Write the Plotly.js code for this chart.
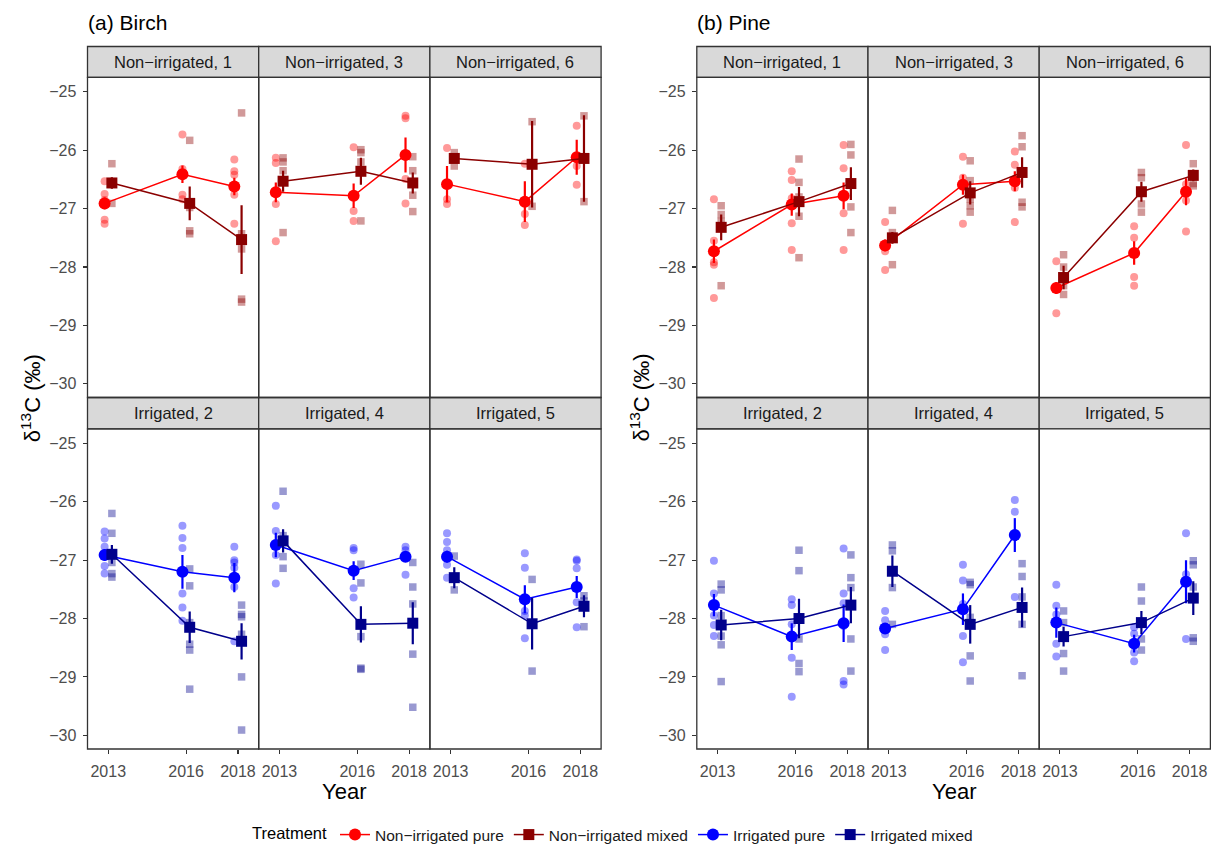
<!DOCTYPE html>
<html>
<head>
<meta charset="utf-8">
<script src="https://cdn.plot.ly/plotly-3.0.1.min.js"></script>
<style>html,body{margin:0;padding:0;background:#fff;}#chart{width:1211px;height:846px;}</style>
</head>
<body>
<div id="chart"></div>
<script>
// ---------------- DATA ----------------
const years = [2013, 2016, 2018];
const yTicks = [-30, -29, -28, -27, -26, -25];
const panelNames = ["Non\u2212irrigated, 1", "Non\u2212irrigated, 3", "Non\u2212irrigated, 6",
                    "Irrigated, 2", "Irrigated, 4", "Irrigated, 5"];
const speciesTitles = ["(a) Birch", "(b) Pine"];
const treatments = ["Non\u2212irrigated pure", "Non\u2212irrigated mixed", "Irrigated pure", "Irrigated mixed"];

// Birch: means and standard errors per panel (2013, 2016, 2018)
const birchPureMean = [
  [-26.91, -26.41, -26.62], [-26.72, -26.78, -26.08], [-26.58, -26.88, -26.12],
  [-26.91, -27.20, -27.30], [-26.74, -27.18, -26.94], [-26.94, -27.67, -27.46]];
const birchPureSE = [
  [0.10, 0.15, 0.15], [0.17, 0.21, 0.30], [0.31, 0.35, 0.30],
  [0.10, 0.29, 0.25], [0.21, 0.16, 0.08], [0.10, 0.24, 0.19]];
const birchMixedMean = [
  [-26.56, -26.91, -27.53], [-26.53, -26.36, -26.56], [-26.14, -26.24, -26.14],
  [-26.90, -28.15, -28.39], [-26.67, -28.10, -28.08], [-27.30, -28.09, -27.79]];
const birchMixedSE = [
  [0.10, 0.29, 0.59], [0.18, 0.23, 0.18], [0.08, 0.74, 0.74],
  [0.16, 0.27, 0.31], [0.20, 0.31, 0.36], [0.18, 0.44, 0.19]];
// Birch: individual trees per panel, per year
const birchPurePts = [
  [[-26.53,-26.75,-26.85,-27.19,-27.26], [-25.73,-26.32,-26.76,-26.84], [-26.16,-26.36,-26.42,-26.76,-27.26]],
  [[-26.13,-26.22,-26.72,-26.92,-27.56], [-25.95,-26.78,-27.04,-27.21], [-25.41,-25.45,-26.49,-26.91]],
  [[-25.96,-26.84,-26.92], [-26.23,-27.09,-27.28], [-25.58,-26.27,-26.59]],
  [[-26.51,-26.63,-26.77,-26.91,-27.10,-27.23], [-26.41,-26.62,-26.79,-27.57,-27.81,-28.04], [-26.77,-27.00,-27.04,-27.13,-27.46,-28.39]],
  [[-26.07,-26.50,-26.74,-26.91,-27.40], [-26.79,-26.83,-27.48,-27.64], [-26.77,-26.83,-26.94,-27.25]],
  [[-26.54,-26.69,-26.83,-26.95,-27.08,-27.30], [-26.88,-27.13,-27.87,-27.95,-28.34], [-26.99,-27.01,-27.14,-27.72,-28.15]]];
const birchMixedPts = [
  [[-26.23,-26.55,-26.91], [-25.83,-26.98,-27.38,-27.43], [-25.36,-27.43,-27.69,-28.55,-28.60]],
  [[-26.13,-26.20,-26.35,-27.41], [-25.99,-26.04,-26.20,-27.21], [-26.11,-26.35,-26.77,-27.05]],
  [[-26.04,-26.12,-26.27], [-25.51,-26.96], [-25.41,-26.88]],
  [[-26.20,-26.54,-27.04,-27.23,-27.29], [-27.15,-27.44,-28.07,-28.44,-28.54,-29.21], [-27.77,-27.93,-27.97,-28.27,-29.00,-29.91]],
  [[-25.82,-26.58,-26.94,-27.14], [-27.07,-27.39,-28.31,-28.85,-28.87], [-27.04,-27.46,-27.75,-28.61,-29.52]],
  [[-26.93,-27.30,-27.51], [-27.33,-28.90], [-27.61,-27.70,-28.14]]];

// Pine: means and standard errors per panel
const pinePureMean = [
  [-27.73, -26.93, -26.78], [-27.63, -26.59, -26.53], [-28.36, -27.76, -26.71],
  [-27.77, -28.31, -28.08], [-28.17, -27.84, -26.57], [-28.07, -28.43, -27.37]];
const pinePureSE = [
  [0.20, 0.19, 0.23], [0.10, 0.17, 0.17], [0.10, 0.20, 0.23],
  [0.19, 0.23, 0.32], [0.08, 0.27, 0.29], [0.26, 0.15, 0.37]];
const pineMixedMean = [
  [-27.32, -26.88, -26.57], [-27.50, -26.73, -26.38], [-28.18, -26.71, -26.43],
  [-28.11, -28.00, -27.77], [-27.19, -28.10, -27.81], [-28.31, -28.07, -27.65]];
const pineMixedSE = [
  [0.22, 0.25, 0.28], [0.10, 0.20, 0.26], [0.20, 0.17, 0.10],
  [0.26, 0.34, 0.31], [0.27, 0.33, 0.34], [0.17, 0.20, 0.29]];
const pinePurePts = [
  [[-26.84,-27.55,-27.73,-27.92,-27.96,-28.53], [-26.36,-26.51,-26.82,-27.25,-27.71], [-25.91,-26.31,-27.08,-27.71]],
  [[-27.23,-27.63,-27.73,-28.05], [-26.11,-26.47,-26.59,-27.26], [-26.02,-26.25,-26.64,-27.23]],
  [[-27.90,-28.36,-28.79], [-27.30,-27.50,-28.17,-28.32], [-25.91,-26.58,-26.86,-27.39]],
  [[-27.01,-27.57,-27.75,-27.95,-28.11,-28.30], [-27.67,-27.77,-28.10,-28.67,-29.34], [-26.80,-27.57,-27.74,-28.13,-29.07,-29.13]],
  [[-27.87,-28.03,-28.15,-28.27,-28.54], [-27.08,-27.35,-27.75,-28.30,-28.75], [-25.97,-26.17,-26.57,-27.63]],
  [[-27.42,-27.78,-27.93,-28.43,-28.65], [-28.15,-28.26,-28.58,-28.73], [-26.54,-27.24,-28.35]]];
const pineMixedPts = [
  [[-26.95,-27.10,-27.22,-28.32], [-26.15,-26.55,-26.80,-27.13,-27.84], [-25.90,-26.08,-26.97,-27.41]],
  [[-27.03,-27.41,-27.96], [-26.18,-26.52,-26.83,-26.95,-27.06], [-25.75,-25.94,-26.38,-26.89,-26.97]],
  [[-27.79,-28.00,-28.32,-28.47], [-26.38,-26.47,-26.92,-27.06], [-26.23,-26.57,-26.61]],
  [[-27.41,-27.51,-27.95,-28.30,-28.45,-29.08], [-26.83,-27.18,-28.35,-28.77,-28.91], [-26.91,-27.30,-27.47,-28.35,-28.90]],
  [[-26.74,-26.84,-27.47,-28.10], [-27.38,-27.42,-27.98,-28.64,-29.07], [-27.06,-27.28,-27.63,-28.10,-28.98]],
  [[-27.87,-28.07,-28.60,-28.90], [-27.46,-27.70,-28.35,-28.54], [-27.01,-27.08,-27.46,-28.33,-28.39]]];

// ---------------- STYLE / LAYOUT ----------------
const colors = ["#FF0000", "#8B0000", "#0000FF", "#00008B"];
const FONT = "Liberation Sans, Arial, Helvetica, sans-serif";
const W = 1211, H = 846;
const dodge = 0.14;
const speciesLeft = [87.5, 696.8];
const panelW = 171.2;
const rowStrip = [[46.5, 77.3], [397.5, 428.8]];
const rowPlot = [[77.3, 397.5], [428.8, 749.0]];
const yRange = [-30.235, -24.75];
const xRange = [2012.2, 2018.8];

const species = [
  {pm: birchPureMean, pse: birchPureSE, mm: birchMixedMean, mse: birchMixedSE, pp: birchPurePts, mp: birchMixedPts},
  {pm: pinePureMean, pse: pinePureSE, mm: pineMixedMean, mse: pineMixedSE, pp: pinePurePts, mp: pineMixedPts}];

const traces = [];
const layout = {
  width: W, height: H, margin: {l: 0, r: 0, t: 0, b: 0, autoexpand: false},
  paper_bgcolor: "#FFFFFF", plot_bgcolor: "#FFFFFF",
  font: {family: FONT, size: 15, color: "#1A1A1A"},
  showlegend: true,
  legend: {
    orientation: "h", x: 250 / W, xanchor: "left", y: 1 - 835 / H, yanchor: "middle",
    font: {family: FONT, size: 15.5, color: "#1A1A1A"},
    title: {text: "Treatment", font: {family: FONT, size: 16.5, color: "#000"}, side: "left"},
    traceorder: "normal", itemclick: false, itemdoubleclick: false, tracegroupgap: 0
  },
  shapes: [], annotations: []
};

function flat(pts, off) {
  const xs = [], ys = [];
  pts.forEach((arr, i) => arr.forEach(v => { xs.push(years[i] + off); ys.push(v); }));
  return {xs, ys};
}

const meanTraces = [];
for (let s = 0; s < 2; s++) {
  const sp = species[s];
  for (let p = 0; p < 6; p++) {
    const n = s * 6 + p + 1;
    const row = p < 3 ? 0 : 1, col = p % 3;
    const xa = n === 1 ? "x" : "x" + n, ya = n === 1 ? "y" : "y" + n;
    const x0 = speciesLeft[s] + col * panelW, x1 = x0 + panelW;
    const dom = [x0 / W, x1 / W];
    const ydom = [1 - rowPlot[row][1] / H, 1 - rowPlot[row][0] / H];
    layout["xaxis" + (n === 1 ? "" : n)] = {
      domain: dom, range: xRange, anchor: ya, showgrid: false, zeroline: false, showline: false,
      tickmode: "array", tickvals: years, ticktext: years.map(String),
      ticks: row === 1 ? "outside" : "", ticklen: 4, tickwidth: 1.1, tickcolor: "#333333",
      ticklabelstandoff: 4,
      showticklabels: row === 1, tickfont: {family: FONT, size: 16, color: "#4D4D4D"}, fixedrange: true
    };
    layout["yaxis" + (n === 1 ? "" : n)] = {
      domain: ydom, range: yRange, anchor: xa, showgrid: false, zeroline: false, showline: false,
      tickmode: "array", tickvals: yTicks,
      ticks: col === 0 ? "outside" : "", ticklen: 4, tickwidth: 1.1, tickcolor: "#333333",
      ticklabelstandoff: 3,
      showticklabels: col === 0, tickfont: {family: FONT, size: 16, color: "#4D4D4D"}, fixedrange: true
    };
    // panel frame
    layout.shapes.push({type: "rect", xref: xa + " domain", yref: ya + " domain", x0: 0, x1: 1, y0: 0, y1: 1,
      line: {color: "#333333", width: 1.3}, fillcolor: "rgba(0,0,0,0)", layer: "above"});
    // strip
    layout.shapes.push({type: "rect", xref: "paper", yref: "paper", x0: dom[0], x1: dom[1],
      y0: 1 - rowStrip[row][1] / H, y1: 1 - rowStrip[row][0] / H,
      line: {color: "#333333", width: 1.3}, fillcolor: "#D9D9D9", layer: "below"});
    layout.annotations.push({text: panelNames[p], xref: "paper", yref: "paper",
      x: (dom[0] + dom[1]) / 2, y: 1 - (rowStrip[row][0] + rowStrip[row][1]) / 2 / H,
      xanchor: "center", yanchor: "middle", showarrow: false,
      font: {family: FONT, size: 16.5, color: "#1A1A1A"}});

    const irr = p >= 3;
    const tp = irr ? 2 : 0, tm = irr ? 3 : 1;
    const pureP = flat(sp.pp[p], -dodge), mixP = flat(sp.mp[p], dodge);
    traces.push({type: "scatter", mode: "markers", x: pureP.xs, y: pureP.ys, xaxis: xa, yaxis: ya,
      showlegend: false, hoverinfo: "skip", cliponaxis: false,
      marker: {symbol: "circle", size: 8, color: colors[tp], opacity: 0.4, line: {width: 0}}});
    traces.push({type: "scatter", mode: "markers", x: mixP.xs, y: mixP.ys, xaxis: xa, yaxis: ya,
      showlegend: false, hoverinfo: "skip", cliponaxis: false,
      marker: {symbol: "square", size: 7.5, color: colors[tm], opacity: 0.4, line: {width: 0}}});
    const firstPanel = (s === 0 && (p === 0 || p === 3));
    meanTraces.push({type: "scatter", mode: "lines+markers", name: treatments[tp], legendgroup: treatments[tp], legendrank: tp + 1,
      x: years.map(v => v - dodge), y: sp.pm[p], xaxis: xa, yaxis: ya, showlegend: firstPanel, cliponaxis: false,
      line: {color: colors[tp], width: 1.5},
      marker: {symbol: "circle", size: 12, color: colors[tp]},
      error_y: {type: "data", array: sp.pse[p], visible: true, width: 0, thickness: 2.2, color: colors[tp]}});
    meanTraces.push({type: "scatter", mode: "lines+markers", name: treatments[tm], legendgroup: treatments[tm], legendrank: tm + 1,
      x: years.map(v => v + dodge), y: sp.mm[p], xaxis: xa, yaxis: ya, showlegend: firstPanel, cliponaxis: false,
      line: {color: colors[tm], width: 1.5},
      marker: {symbol: "square", size: 11, color: colors[tm]},
      error_y: {type: "data", array: sp.mse[p], visible: true, width: 0, thickness: 2.2, color: colors[tm]}});
  }
  const cx = (speciesLeft[s] + 1.5 * panelW) / W;
  layout.annotations.push({text: speciesTitles[s], xref: "paper", yref: "paper", x: (speciesLeft[s] - 2) / W, y: 1 - 23 / H,
    xanchor: "left", yanchor: "middle", showarrow: false, font: {family: FONT, size: 21, color: "#000"}});
  layout.annotations.push({text: "Year", xref: "paper", yref: "paper", x: cx, y: 1 - 791 / H,
    xanchor: "center", yanchor: "middle", showarrow: false, font: {family: FONT, size: 22, color: "#000"}});
  layout.annotations.push({text: "\u03b4<sup>13</sup>C (\u2030)", xref: "paper", yref: "paper",
    x: (speciesLeft[s] - 57) / W, y: 1 - 397.7 / H, textangle: -90,
    xanchor: "center", yanchor: "middle", showarrow: false, font: {family: FONT, size: 22, color: "#000"}});
}
traces.push(...meanTraces);

Plotly.newPlot("chart", traces, layout, {staticPlot: true, displayModeBar: false});
</script>
</body>
</html>
